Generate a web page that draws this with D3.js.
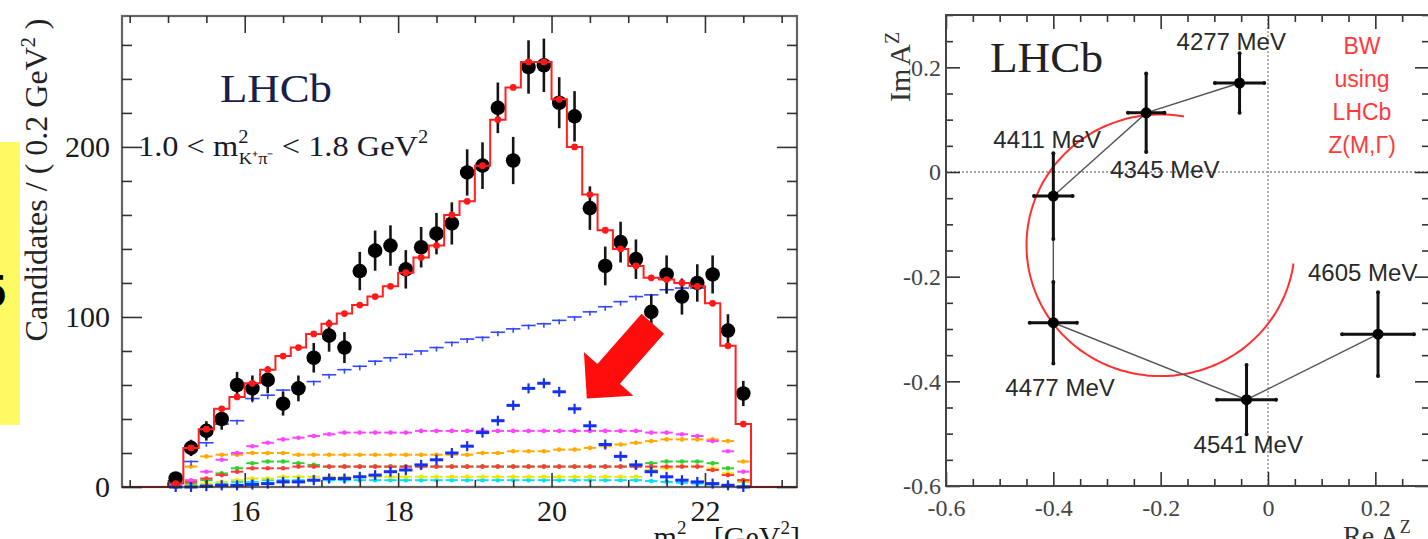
<!DOCTYPE html>
<html>
<head>
<meta charset="utf-8">
<script src="https://cdn.jsdelivr.net/npm/d3@7"></script>
<style>
  body { margin: 0; background: #fff; }
  svg { display: block; }
</style>
</head>
<body>
<div id="chart"></div>
<script>
// ---------- left panel: m2(psi' pi) projection ----------
const binCenters = [15.1, 15.3, 15.5, 15.7, 15.9, 16.1, 16.3, 16.5, 16.7, 16.9,
                    17.1, 17.3, 17.5, 17.7, 17.9, 18.1, 18.3, 18.5, 18.7, 18.9,
                    19.1, 19.3, 19.5, 19.7, 19.9, 20.1, 20.3, 20.5, 20.7, 20.9,
                    21.1, 21.3, 21.5, 21.7, 21.9, 22.1, 22.3, 22.5];
const dataCounts = [5, 23, 33, 40, 60, 58, 63, 49, 58, 76,
                    89, 82, 127, 139, 142, 128, 141, 149, 155, 185,
                    189, 223, 192, 247, 248, 226, 218, 164, 130, 144,
                    134, 103, 125, 112, 120, 125, 92, 55];
const dataErrors = [2.5, 4.8, 5.7, 6.3, 7.7, 7.6, 7.9, 7.0, 7.6, 8.7,
                    9.4, 9.1, 11.3, 11.8, 11.9, 11.3, 11.9, 12.2, 12.4, 13.6,
                    13.7, 14.9, 13.9, 15.7, 15.7, 15.0, 14.8, 12.8, 11.4, 12.0,
                    11.6, 10.1, 11.2, 10.6, 11.0, 11.2, 9.6, 7.4];
const fitTotal = [2, 23, 34, 46, 53, 61, 69, 77, 82, 90,
                  96, 102, 107, 112, 118, 126, 135, 142, 160, 168,
                  189, 216, 235, 250, 250, 228, 200, 172, 151, 140,
                  130, 123, 122, 120, 118, 108, 83, 37];
const compBlue = [null, 15, 26, 37, 39, 52, 54, 57, 59, 62,
                  66, 69, 71, 74, 76, 78, 80, 82, 85, 87,
                  88, 91, 93, 95, 96, 98, 100, 103, 106, 109,
                  112, 113, 116, 117, 117, null, null, null];
const compZ = [0, 0, 0.5, 1, 1, 1.5, 2, 3, 3, 4,
               5, 5, 6, 7, 9, 10, 13, 16, 20, 24,
               32, 39, 48, 58, 61, 56, 46, 36, 25, 18,
               13, 9, 6, 4, 3, 2, 1, 0];
const compMagenta = [1, 4, 9, 16, 20, 24, 26, 28, 29, 30,
                     31, 32, 32, 32, 32, 32, 33, 33, 33, 33,
                     33, 33, 33, 33, 33, 33, 33, 33, 33, 33,
                     33, 32, 32, 31, 30, 27, 21, 9];
const compOrange = [0, 12, 18, 19, 19, 20, 20, 20, 19, 19,
                    19, 19, 19, 19, 19, 19, 19, 19, 19, 19,
                    20, 20, 21, 21, 21, 22, 22, 23, 24, 25,
                    26, 27, 28, 28, 28, 28, 27, 15];
const compRed = [0, 3, 5, 7, 9, 11, 11, 11, 12, 12,
                 12, 12, 12, 12, 12, 12, 12, 12, 12, 12,
                 12, 12, 12, 12, 12, 12, 12, 12, 12, 12,
                 12, 12, 12, 12, 12, 10, 7, 4];
const compGreen = [0, 2, 4, 8, 11, 14, 15, 15, 14, 13,
                   12, 12, 12, 12, 12, 12, 12, 12, 12, 12,
                   12, 12, 12, 12, 12, 12, 12, 12, 12, 12,
                   12, 14, 15, 15, 15, 14, 11, 4];
const compYellow = [0, 1, 2, 3, 4, 5, 5, 6, 6, 6,
                    6, 6, 6, 6, 6, 6, 6, 6, 6, 6,
                    6, 6, 6, 6, 6, 6, 6, 6, 6, 6,
                    6, 10, 11, 12, 12, 11, 8, 3];
const compCyan = [0, 0.5, 1, 2, 3, 3, 4, 4, 4, 4,
                  4, 4, 4, 4, 4, 4, 4, 4, 4, 4,
                  4, 4, 4, 4, 4, 4, 4, 4, 4, 4,
                  4, 3.5, 3, 2.5, 2, 1.5, 1, 0.5];
const xTicksLeft = [16, 18, 20, 22];
const yTicksLeft = [0, 100, 200];
const arrowFrom = [21.32, 96];
const arrowTo = [20.46, 52];

// ---------- right panel: Argand diagram ----------
const argandMass = ["4277 MeV", "4345 MeV", "4411 MeV", "4477 MeV", "4541 MeV", "4605 MeV"];
const argandRe = [-0.053, -0.227, -0.40, -0.40, -0.04, 0.205];
const argandIm = [0.17, 0.113, -0.046, -0.288, -0.435, -0.31];
const argandReErr = [0.046, 0.034, 0.036, 0.044, 0.055, 0.067];
const argandImErr = [0.057, 0.075, 0.082, 0.078, 0.066, 0.08];
const bwCircle = {re: -0.2, im: -0.14, r: 0.25, from: 80, to: 352};
const xTicksRight = [-0.6, -0.4, -0.2, 0, 0.2];
const yTicksRight = [-0.6, -0.4, -0.2, 0, 0.2];
const bwLines = ["BW", "using", "LHCb", "Z(M,\u0393)"];

const W = 1428, H = 539;
const SERIF = "'Liberation Serif', 'Times New Roman', serif";
const SANS = "'Liberation Sans', Arial, sans-serif";

const svg = d3.select("#chart").append("svg")
    .attr("width", W).attr("height", H);
svg.append("rect").attr("width", W).attr("height", H).attr("fill", "#fff");

// yellow tab on the far left edge (its big glyph is cut by the picture edge)
svg.append("rect").attr("x", 0).attr("y", 142).attr("width", 20).attr("height", 283)
    .attr("fill", "#fffa64");
svg.append("text").attr("x", 6).attr("y", 307).attr("text-anchor", "end")
    .attr("font-family", SANS).attr("font-weight", "bold").attr("font-size", 46)
    .attr("fill", "#000").text("5");

// ================= LEFT PANEL =================
const L = {left: 122, right: 797, top: 16, bottom: 487};
const xL = d3.scaleLinear().domain([14.4, 23.2]).range([L.left, L.right]);
const yL = d3.scaleLinear().domain([0, 277]).range([L.bottom, L.top]);
const gL = svg.append("g");

// fit components
const compStyles = [
    {vals: compCyan, color: "#00e1ff"},
    {vals: compYellow, color: "#e8e800"},
    {vals: compGreen, color: "#2fd12f"},
    {vals: compRed, color: "#ff3a3a"},
    {vals: compOrange, color: "#ffaa00"},
    {vals: compMagenta, color: "#ff45ff"}
];
compStyles.forEach(c => {
    const g = gL.append("g");
    binCenters.forEach((x, i) => {
        const v = c.vals[i];
        if (v === null) return;
        g.append("line")
            .attr("x1", xL(x - 0.1) + 1.5).attr("x2", xL(x + 0.1) - 1.5)
            .attr("y1", yL(v)).attr("y2", yL(v))
            .attr("stroke", c.color).attr("stroke-width", 2);
        g.append("circle").attr("cx", xL(x)).attr("cy", yL(v)).attr("r", 2.3)
            .attr("fill", c.color);
    });
});

// Z(4430) component: bold crosses
const gZ = gL.append("g");
binCenters.forEach((x, i) => {
    const v = compZ[i];
    gZ.append("line")
        .attr("x1", xL(x - 0.1) + 1).attr("x2", xL(x + 0.1) - 1)
        .attr("y1", yL(v)).attr("y2", yL(v))
        .attr("stroke", "#1530f0").attr("stroke-width", 3);
    gZ.append("line")
        .attr("x1", xL(x)).attr("x2", xL(x))
        .attr("y1", yL(v) - 5).attr("y2", yL(v) + 5)
        .attr("stroke", "#1530f0").attr("stroke-width", 2.2);
});

// large blue component
const gB = gL.append("g");
binCenters.forEach((x, i) => {
    const v = compBlue[i];
    if (v === null) return;
    gB.append("line")
        .attr("x1", xL(x - 0.1) + 0.5).attr("x2", xL(x + 0.1) - 0.5)
        .attr("y1", yL(v)).attr("y2", yL(v))
        .attr("stroke", "#3347ff").attr("stroke-width", 1.6);
    gB.append("line")
        .attr("x1", xL(x)).attr("x2", xL(x))
        .attr("y1", yL(v) - 1).attr("y2", yL(v) + 4)
        .attr("stroke", "#3347ff").attr("stroke-width", 1.6);
});

// data points
const gD = gL.append("g");
binCenters.forEach((x, i) => {
    gD.append("line")
        .attr("x1", xL(x)).attr("x2", xL(x))
        .attr("y1", yL(dataCounts[i] - dataErrors[i]))
        .attr("y2", yL(dataCounts[i] + dataErrors[i]))
        .attr("stroke", "#151515").attr("stroke-width", 2.6);
    gD.append("circle").attr("cx", xL(x)).attr("cy", yL(dataCounts[i])).attr("r", 7.3)
        .attr("fill", "#000");
});

// total fit (red step histogram with markers)
const stepPts = [[14.4, 0], [binCenters[0] - 0.1, 0]];
binCenters.forEach((x, i) => {
    stepPts.push([x - 0.1, fitTotal[i]]);
    stepPts.push([x + 0.1, fitTotal[i]]);
});
stepPts.push([binCenters[binCenters.length - 1] + 0.1, 0]);
stepPts.push([23.2, 0]);
gL.append("path")
    .attr("d", d3.line().x(d => xL(d[0])).y(d => yL(d[1]))(stepPts))
    .attr("fill", "none").attr("stroke", "#ff2020").attr("stroke-width", 2);
gL.append("g").selectAll("circle")
    .data(binCenters)
    .join("circle")
    .attr("cx", d => xL(d))
    .attr("cy", (d, i) => yL(fitTotal[i]))
    .attr("r", 3.4)
    .attr("fill", "#ff1a1a");

// red arrow
{
    const x0 = xL(arrowFrom[0]), y0 = yL(arrowFrom[1]);
    const x1 = xL(arrowTo[0]), y1 = yL(arrowTo[1]);
    const len = Math.hypot(x1 - x0, y1 - y0);
    const ux = (x1 - x0) / len, uy = (y1 - y0) / len;
    const nx = -uy, ny = ux;
    const headLen = 33, headW = 33, shaftW = 15;
    const bx = x1 - ux * headLen, by = y1 - uy * headLen;
    const pts = [
        [x0 + nx * shaftW, y0 + ny * shaftW],
        [bx + nx * shaftW, by + ny * shaftW],
        [bx + nx * headW, by + ny * headW],
        [x1, y1],
        [bx - nx * headW, by - ny * headW],
        [bx - nx * shaftW, by - ny * shaftW],
        [x0 - nx * shaftW, y0 - ny * shaftW]
    ];
    gL.append("polygon").attr("points", pts.map(p => p.join(",")).join(" "))
        .attr("fill", "#ff0d0d");
}

// axes (ROOT style, ticks inside the frame)
const minorXL = d3.range(14.5, 23.2, 0.5).filter(v => !xTicksLeft.includes(v));
const minorYL = d3.range(20, 277, 20).filter(v => !yTicksLeft.includes(v));

function styleAxis(g, font, size, color) {
    g.select(".domain").remove();
    g.selectAll("line").attr("stroke", "#333").attr("stroke-width", 1.6);
    g.selectAll("text").attr("font-family", font).attr("font-size", size).attr("fill", color);
}

gL.append("g").attr("transform", `translate(0,${L.bottom})`)
    .call(d3.axisBottom(xL).tickValues(xTicksLeft).tickSize(-14).tickPadding(13).tickFormat(d3.format("d")))
    .call(g => styleAxis(g, SERIF, 30, "#1a1a1a"));
gL.append("g").attr("transform", `translate(0,${L.bottom})`)
    .call(d3.axisBottom(xL).tickValues(minorXL).tickSize(-7).tickFormat(""))
    .call(g => styleAxis(g, SERIF, 30, "#1a1a1a"));
gL.append("g").attr("transform", `translate(0,${L.top})`)
    .call(d3.axisTop(xL).tickValues(xTicksLeft).tickSize(-17).tickFormat(""))
    .call(g => styleAxis(g, SERIF, 30, "#1a1a1a"));
gL.append("g").attr("transform", `translate(0,${L.top})`)
    .call(d3.axisTop(xL).tickValues(minorXL).tickSize(-7).tickFormat(""))
    .call(g => styleAxis(g, SERIF, 30, "#1a1a1a"));
gL.append("g").attr("transform", `translate(${L.left},0)`)
    .call(d3.axisLeft(yL).tickValues(yTicksLeft).tickSize(-20).tickPadding(12).tickFormat(d3.format("d")))
    .call(g => styleAxis(g, SERIF, 30, "#1a1a1a"));
gL.append("g").attr("transform", `translate(${L.left},0)`)
    .call(d3.axisLeft(yL).tickValues(minorYL).tickSize(-10).tickFormat(""))
    .call(g => styleAxis(g, SERIF, 30, "#1a1a1a"));
gL.append("g").attr("transform", `translate(${L.right},0)`)
    .call(d3.axisRight(yL).tickValues(yTicksLeft).tickSize(-20).tickFormat(""))
    .call(g => styleAxis(g, SERIF, 30, "#1a1a1a"));
gL.append("g").attr("transform", `translate(${L.right},0)`)
    .call(d3.axisRight(yL).tickValues(minorYL).tickSize(-10).tickFormat(""))
    .call(g => styleAxis(g, SERIF, 30, "#1a1a1a"));

gL.append("rect")
    .attr("x", L.left).attr("y", L.top)
    .attr("width", L.right - L.left).attr("height", L.bottom - L.top)
    .attr("fill", "none").attr("stroke", "#222").attr("stroke-opacity", 0.7)
    .attr("stroke-width", 2.2);

// texts
gL.append("text").attr("x", 220).attr("y", 102)
    .attr("font-family", SERIF).attr("font-size", 40).attr("fill", "#16204a")
    .attr("textLength", 112).attr("lengthAdjust", "spacingAndGlyphs")
    .text("LHCb");

{
    const t = gL.append("text").attr("transform", "translate(138,156) scale(1.08,1)")
        .attr("font-family", SERIF).attr("font-size", 30).attr("fill", "#1a1a2a");
    t.append("tspan").text("1.0 < m");
    t.append("tspan").attr("dy", -13).attr("font-size", 19).text("2");
    t.append("tspan").attr("dx", -9).attr("dy", 21).attr("font-size", 17).text("K\u207A\u03C0\u207B");
    t.append("tspan").attr("dy", -8).text(" < 1.8 GeV");
    t.append("tspan").attr("dy", -13).attr("font-size", 19).text("2");
}

{
    const t = gL.append("text").attr("transform", "translate(47,180) rotate(-90)")
        .attr("text-anchor", "middle")
        .attr("font-family", SERIF).attr("font-size", 32).attr("fill", "#222");
    t.append("tspan").text("Candidates / ( 0.2 GeV");
    t.append("tspan").attr("dy", -12).attr("font-size", 20).text("2");
    t.append("tspan").attr("dy", 12).text(" )");
}

// x title sits partly below the picture edge, as in the reference
{
    const t = gL.append("text").attr("x", 800).attr("y", 547).attr("text-anchor", "end")
        .attr("font-family", SERIF).attr("font-size", 30).attr("fill", "#1a1a1a");
    t.append("tspan").text("m");
    t.append("tspan").attr("dy", -13).attr("font-size", 19).text("2");
    t.append("tspan").attr("dx", -9).attr("dy", 21).attr("font-size", 17).text("\u03C8\u2032\u03C0\u207B");
    t.append("tspan").attr("dy", -8).text(" [GeV");
    t.append("tspan").attr("dy", -13).attr("font-size", 19).text("2");
    t.append("tspan").attr("dy", 13).text("]");
}

// ================= RIGHT PANEL =================
const R = {left: 946, right: 1429, top: 15, bottom: 486};
const xR = d3.scaleLinear().domain([-0.6, 0.3]).range([R.left, R.right]);
const yR = d3.scaleLinear().domain([-0.6, 0.3]).range([R.bottom, R.top]);
const gR = svg.append("g");

// dotted zero lines
gR.append("line").attr("x1", R.left).attr("x2", R.right).attr("y1", yR(0)).attr("y2", yR(0))
    .attr("stroke", "#888").attr("stroke-width", 1.3).attr("stroke-dasharray", "2,2");
gR.append("line").attr("x1", xR(0)).attr("x2", xR(0)).attr("y1", R.top).attr("y2", R.bottom)
    .attr("stroke", "#888").attr("stroke-width", 1.3).attr("stroke-dasharray", "2,2");

// Breit-Wigner circle
{
    const angles = d3.range(bwCircle.from, bwCircle.to + 0.5, 2);
    const line = d3.line()
        .x(a => xR(bwCircle.re + bwCircle.r * Math.cos(a * Math.PI / 180)))
        .y(a => yR(bwCircle.im + bwCircle.r * Math.sin(a * Math.PI / 180)))
        .curve(d3.curveCatmullRom);
    gR.append("path").attr("d", line(angles))
        .attr("fill", "none").attr("stroke", "#ff3030").attr("stroke-width", 2);
}

// connecting line
gR.append("path")
    .attr("d", d3.line().x((d, i) => xR(argandRe[i])).y((d, i) => yR(argandIm[i]))(argandRe))
    .attr("fill", "none").attr("stroke", "#555").attr("stroke-width", 1.4);

// points with error bars
const labelOffsets = [[-63, -33], [-36, 65], [-60, -48], [-48, 73], [-53, 53], [-70, -53]];
argandRe.forEach((re, i) => {
    const im = argandIm[i];
    const g = gR.append("g");
    const xs = [re - argandReErr[i], re + argandReErr[i]];
    const ys = [im - argandImErr[i], im + argandImErr[i]];
    g.append("line").attr("x1", xR(xs[0])).attr("x2", xR(xs[1]))
        .attr("y1", yR(im)).attr("y2", yR(im))
        .attr("stroke", "#111").attr("stroke-width", 3);
    g.append("line").attr("x1", xR(re)).attr("x2", xR(re))
        .attr("y1", yR(ys[0])).attr("y2", yR(ys[1]))
        .attr("stroke", "#111").attr("stroke-width", 3);
    xs.forEach(v => g.append("circle").attr("cx", xR(v)).attr("cy", yR(im)).attr("r", 2).attr("fill", "#111"));
    ys.forEach(v => g.append("circle").attr("cx", xR(re)).attr("cy", yR(v)).attr("r", 2).attr("fill", "#111"));
    g.append("circle").attr("cx", xR(re)).attr("cy", yR(im)).attr("r", 5.5).attr("fill", "#000");
    g.append("text")
        .attr("x", xR(re) + labelOffsets[i][0]).attr("y", yR(im) + labelOffsets[i][1])
        .attr("font-family", SANS).attr("font-size", 24).attr("fill", "#2a2a2a")
        .text(argandMass[i]);
});

// axes
const minorR = d3.range(-0.6, 0.301, 0.05).map(v => Math.round(v * 100) / 100)
    .filter(v => !xTicksRight.some(t => Math.abs(t - v) < 1e-6));
const fmtR = d => (d === 0 ? "0" : d3.format(".1f")(d).replace("\u2212", "-"));

gR.append("g").attr("transform", `translate(0,${R.bottom})`)
    .call(d3.axisBottom(xR).tickValues(xTicksRight).tickSize(-14).tickPadding(13).tickFormat(fmtR))
    .call(g => styleAxis(g, SERIF, 24, "#444"));
gR.append("g").attr("transform", `translate(0,${R.bottom})`)
    .call(d3.axisBottom(xR).tickValues(minorR).tickSize(-7).tickFormat(""))
    .call(g => styleAxis(g, SERIF, 24, "#444"));
gR.append("g").attr("transform", `translate(0,${R.top})`)
    .call(d3.axisTop(xR).tickValues(xTicksRight).tickSize(-14).tickFormat(""))
    .call(g => styleAxis(g, SERIF, 24, "#444"));
gR.append("g").attr("transform", `translate(0,${R.top})`)
    .call(d3.axisTop(xR).tickValues(minorR).tickSize(-7).tickFormat(""))
    .call(g => styleAxis(g, SERIF, 24, "#444"));
gR.append("g").attr("transform", `translate(${R.left},0)`)
    .call(d3.axisLeft(yR).tickValues(yTicksRight).tickSize(-14).tickPadding(5).tickFormat(fmtR))
    .call(g => styleAxis(g, SERIF, 24, "#444"));
gR.append("g").attr("transform", `translate(${R.left},0)`)
    .call(d3.axisLeft(yR).tickValues(minorR).tickSize(-7).tickFormat(""))
    .call(g => styleAxis(g, SERIF, 24, "#444"));
gR.append("g").attr("transform", `translate(${R.right},0)`)
    .call(d3.axisRight(yR).tickValues(yTicksRight).tickSize(-14).tickFormat(""))
    .call(g => styleAxis(g, SERIF, 24, "#444"));
gR.append("g").attr("transform", `translate(${R.right},0)`)
    .call(d3.axisRight(yR).tickValues(minorR).tickSize(-7).tickFormat(""))
    .call(g => styleAxis(g, SERIF, 24, "#444"));

gR.append("rect")
    .attr("x", R.left).attr("y", R.top)
    .attr("width", R.right - R.left).attr("height", R.bottom - R.top)
    .attr("fill", "none").attr("stroke", "#444").attr("stroke-width", 2);

gR.append("text").attr("x", 990).attr("y", 72)
    .attr("font-family", SERIF).attr("font-size", 42).attr("fill", "#222")
    .attr("textLength", 113).attr("lengthAdjust", "spacingAndGlyphs")
    .text("LHCb");

gR.append("g").selectAll("text")
    .data(bwLines)
    .join("text")
    .attr("x", 1362)
    .attr("y", (d, i) => 54 + i * 33)
    .attr("text-anchor", "middle")
    .attr("font-family", SANS).attr("font-size", 23).attr("fill", "#ff3a3a")
    .text(d => d);

{
    const t = gR.append("text").attr("transform", "translate(910,102) rotate(-90)")
        .attr("font-family", SERIF).attr("font-size", 30).attr("fill", "#333");
    t.append("tspan").text("Im");
    t.append("tspan").attr("dx", 3).text("A");
    t.append("tspan").attr("dy", -11).attr("font-size", 20).text("Z");
}
{
    const t = gR.append("text").attr("x", 1343).attr("y", 545)
        .attr("font-family", SERIF).attr("font-size", 28).attr("fill", "#333");
    t.append("tspan").text("Re A");
    t.append("tspan").attr("dy", -12).attr("font-size", 18).text("Z");
}
</script>
</body>
</html>
